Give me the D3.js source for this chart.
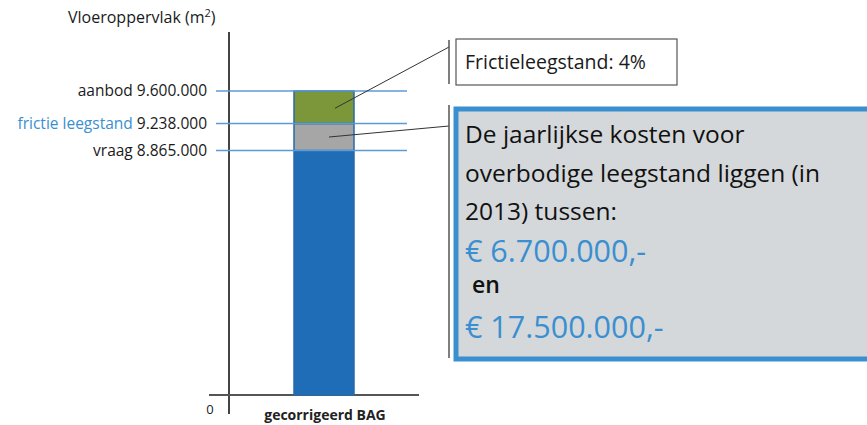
<!DOCTYPE html>
<html>
<head>
<meta charset="utf-8">
<script src="https://cdn.jsdelivr.net/npm/d3@7"></script>
<style>
  body { margin: 0; background: #fff; }
  svg { display: block; font-family: "Open Sans", "Noto Sans", sans-serif; }
</style>
</head>
<body>
<svg id="chart" width="867" height="425"></svg>
<script>
// data
var category = "gecorrigeerd BAG";
var levelNames = ["vraag", "frictie leegstand", "aanbod"];
var levelValues = [8865000, 9238000, 9600000];
var levelLabels = ["8.865.000", "9.238.000", "9.600.000"];
var segColors = ["#1f6db7", "#a6a6a6", "#7b973a"];
var nameColors = ["#1a1a1a", "#3a8fd0", "#1a1a1a"];
var calloutSmall = "Frictieleegstand: 4%";
var calloutLines = ["De jaarlijkse kosten voor", "overbodige leegstand liggen (in", "2013) tussen:"];
var costLow = "€ 6.700.000,-";
var costHigh = "€ 17.500.000,-";

var svg = d3.select("#chart");

// broken axis: scale is stretched near the top so the small differences show
var y = d3.scaleLinear()
  .domain([0, levelValues[0], levelValues[1], levelValues[2]])
  .range([395, 150.5, 123.5, 91]);

var x = d3.scaleBand().domain([category]).range([264, 384])
  .paddingInner(0).paddingOuter(0.5);

// axis lines
svg.append("line")
  .attr("x1", 229).attr("x2", 229).attr("y1", 32).attr("y2", 414)
  .attr("stroke", "#444").attr("stroke-width", 2);
svg.append("line")
  .attr("x1", 209).attr("x2", 419).attr("y1", y(0)).attr("y2", y(0))
  .attr("stroke", "#555").attr("stroke-width", 2);

svg.append("text").attr("x", 210).attr("y", 414)
  .attr("font-size", 13).attr("text-anchor", "middle").attr("fill", "#222").text("0");

svg.append("text").attr("x", x(category) + x.bandwidth() / 2 + 1).attr("y", 420)
  .attr("font-size", 14).attr("font-weight", "bold").attr("text-anchor", "middle")
  .attr("fill", "#222").text(category);

// title
var t = svg.append("text").attr("x", 68).attr("y", 23).attr("font-size", 16).attr("fill", "#1a1a1a");
t.append("tspan").text("Vloeroppervlak (m");
t.append("tspan").attr("font-size", 11).attr("dy", -6).text("2");
t.append("tspan").attr("dy", 6).text(")");

// stacked segments
var bottoms = [0].concat(levelValues.slice(0, -1));
svg.selectAll(".seg")
  .data(levelValues)
  .enter().append("rect")
    .attr("class", "seg")
    .attr("x", x(category))
    .attr("width", x.bandwidth())
    .attr("y", function(d) { return y(d); })
    .attr("height", function(d, i) { return y(bottoms[i]) - y(d); })
    .attr("fill", function(d, i) { return segColors[i]; })
    .attr("stroke", "#2a6aa8").attr("stroke-width", 1.5);

// level lines
svg.selectAll(".lvl")
  .data(levelValues)
  .enter().append("line")
    .attr("class", "lvl")
    .attr("x1", 216).attr("x2", 407)
    .attr("y1", function(d) { return y(d); })
    .attr("y2", function(d) { return y(d); })
    .attr("stroke", "#5b9bd5").attr("stroke-width", 1.5);

// level labels
svg.selectAll(".lbl")
  .data(levelValues)
  .enter().append("text")
    .attr("class", "lbl")
    .attr("x", 207)
    .attr("y", function(d) { return y(d) + 5; })
    .attr("text-anchor", "end")
    .attr("font-size", 15.5)
    .each(function(d, i) {
      var s = d3.select(this);
      s.append("tspan").attr("fill", nameColors[i]).text(levelNames[i] + " ");
      s.append("tspan").attr("fill", "#1a1a1a").text(levelLabels[i]);
    });

// leader lines
var greenMid = (y(levelValues[1]) + y(levelValues[2])) / 2;
var grayMid = (y(levelValues[0]) + y(levelValues[1])) / 2;
svg.append("line").attr("x1", 335).attr("y1", greenMid + 1).attr("x2", 449).attr("y2", 47)
  .attr("stroke", "#333").attr("stroke-width", 1);
svg.append("line").attr("x1", 329).attr("y1", grayMid).attr("x2", 449).attr("y2", 126)
  .attr("stroke", "#333").attr("stroke-width", 1);

// brackets
svg.append("line").attr("x1", 449).attr("x2", 449).attr("y1", 40).attr("y2", 84)
  .attr("stroke", "#555").attr("stroke-width", 1.5);
svg.append("line").attr("x1", 449).attr("x2", 449).attr("y1", 105).attr("y2", 358)
  .attr("stroke", "#555").attr("stroke-width", 1.5);

// small callout
svg.append("rect").attr("x", 456).attr("y", 39).attr("width", 221).attr("height", 46)
  .attr("fill", "#fff").attr("stroke", "#555").attr("stroke-width", 1.2);
svg.append("text").attr("x", 465).attr("y", 69).attr("font-size", 19.5).attr("fill", "#1a1a1a")
  .text(calloutSmall);

// big callout
svg.append("rect").attr("x", 456).attr("y", 109).attr("width", 430).attr("height", 250)
  .attr("fill", "#d5d8da").attr("stroke", "#3a8fd0").attr("stroke-width", 5);

svg.selectAll(".cl")
  .data(calloutLines)
  .enter().append("text")
    .attr("class", "cl")
    .attr("x", 465)
    .attr("y", function(d, i) { return 143 + i * 38.5; })
    .attr("font-size", 24.5).attr("fill", "#111")
    .text(function(d) { return d; });

svg.append("text").attr("x", 465).attr("y", 262).attr("font-size", 30.5).attr("fill", "#3a8fd0").text(costLow);
svg.append("text").attr("x", 472).attr("y", 293).attr("font-size", 23).attr("font-weight", "600")
  .attr("fill", "#111").text("en");
svg.append("text").attr("x", 465).attr("y", 338).attr("font-size", 30.5).attr("fill", "#3a8fd0").text(costHigh);
</script>
</body>
</html>
